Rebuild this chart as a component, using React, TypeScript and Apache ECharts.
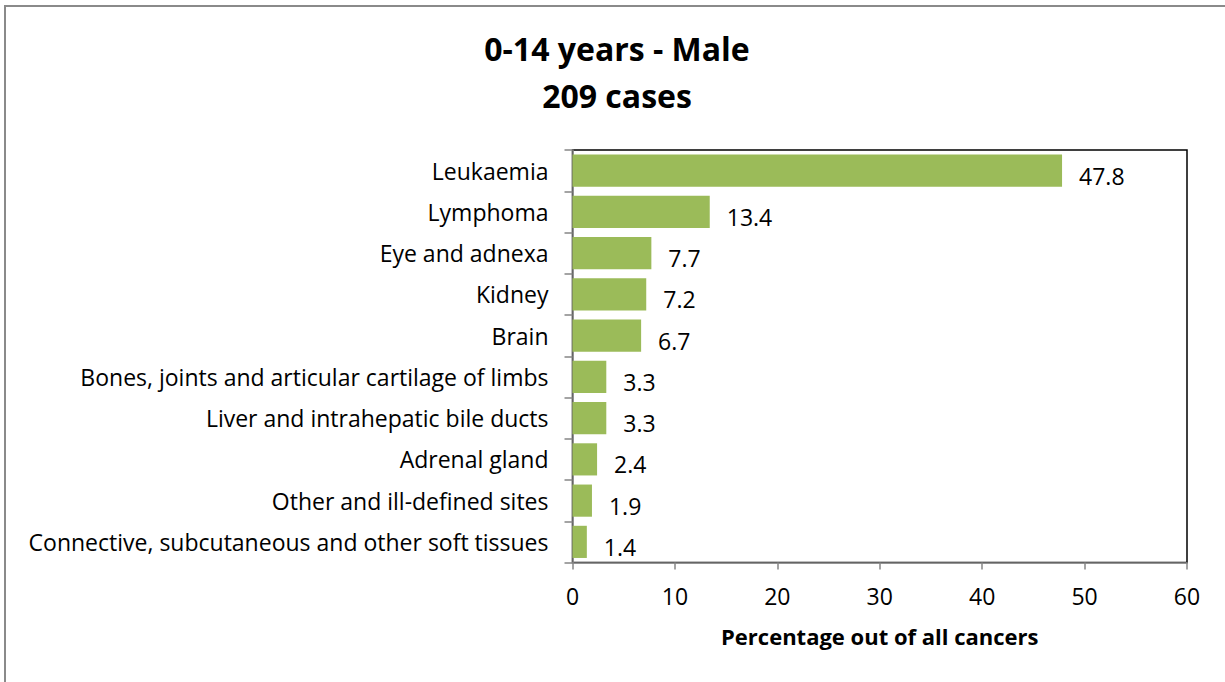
import React, { useEffect, useRef } from "react";
import * as echarts from "echarts";

const categories = [
  "Leukaemia",
  "Lymphoma",
  "Eye and adnexa",
  "Kidney",
  "Brain",
  "Bones, joints and articular cartilage of limbs",
  "Liver and intrahepatic bile ducts",
  "Adrenal gland",
  "Other and ill-defined sites",
  "Connective, subcutaneous and other soft tissues",
];
const values = [47.8, 13.4, 7.7, 7.2, 6.7, 3.3, 3.3, 2.4, 1.9, 1.4];
const xTicks = { min: 0, max: 60, interval: 10 };

const FONT = "'Open Sans', 'Liberation Sans', sans-serif";

export default function App() {
  const ref = useRef<HTMLDivElement>(null);
  useEffect(() => {
    if (!ref.current) return;
    const chart = echarts.init(ref.current, undefined, { renderer: "svg" });
    chart.setOption({
      animation: false,
      backgroundColor: "#ffffff",
      title: {
        text: "0-14 years - Male\n209 cases",
        left: 612,
        top: 20,
        textAlign: "center",
        textStyle: {
          fontFamily: FONT,
          fontSize: 32,
          fontWeight: "bold",
          color: "#000",
          lineHeight: 47,
        },
      },
      graphic: [
        {
          type: "rect",
          shape: { x: 5, y: 6, width: 1240, height: 700 },
          style: { fill: "none", stroke: "#8a8a8a", lineWidth: 2 },
          silent: true,
        },
      ],
      grid: {
        left: 572.5,
        top: 150,
        right: 38,
        bottom: 119.5,
        show: true,
        borderColor: "#000",
        borderWidth: 1.5,
        containLabel: false,
      },
      xAxis: {
        type: "value",
        min: xTicks.min,
        max: xTicks.max,
        interval: xTicks.interval,
        name: "Percentage out of all cancers",
        nameLocation: "middle",
        nameGap: 62,
        nameTextStyle: {
          fontFamily: FONT,
          fontSize: 22,
          fontWeight: "bold",
          color: "#000",
        },
        axisLine: { show: true, lineStyle: { color: "#868686", width: 1.5 } },
        axisTick: { show: true, length: 7, lineStyle: { color: "#868686", width: 1.5 } },
        axisLabel: { fontFamily: FONT, fontSize: 23, color: "#000", margin: 22 },
        splitLine: { show: false },
      },
      yAxis: {
        type: "category",
        data: categories,
        inverse: true,
        axisLine: { show: true, lineStyle: { color: "#868686", width: 1.5 } },
        axisTick: { show: true, length: 8, lineStyle: { color: "#868686", width: 1.5 } },
        axisLabel: { fontFamily: FONT, fontSize: 23, color: "#000", margin: 24 },
      },
      series: [
        {
          type: "bar",
          data: values,
          barCategoryGap: "22%",
          itemStyle: { color: "#9bbb59" },
          label: {
            show: true,
            position: "right",
            distance: 17,
            offset: [0, 5],
            fontFamily: FONT,
            fontSize: 23,
            color: "#000",
            formatter: (p: any) => p.value.toFixed(1),
          },
        },
      ],
    });
    return () => chart.dispose();
  }, []);
  return (
    <div
      ref={ref}
      style={{ position: "fixed", left: 0, top: 0, width: 1225, height: 682 }}
    />
  );
}
